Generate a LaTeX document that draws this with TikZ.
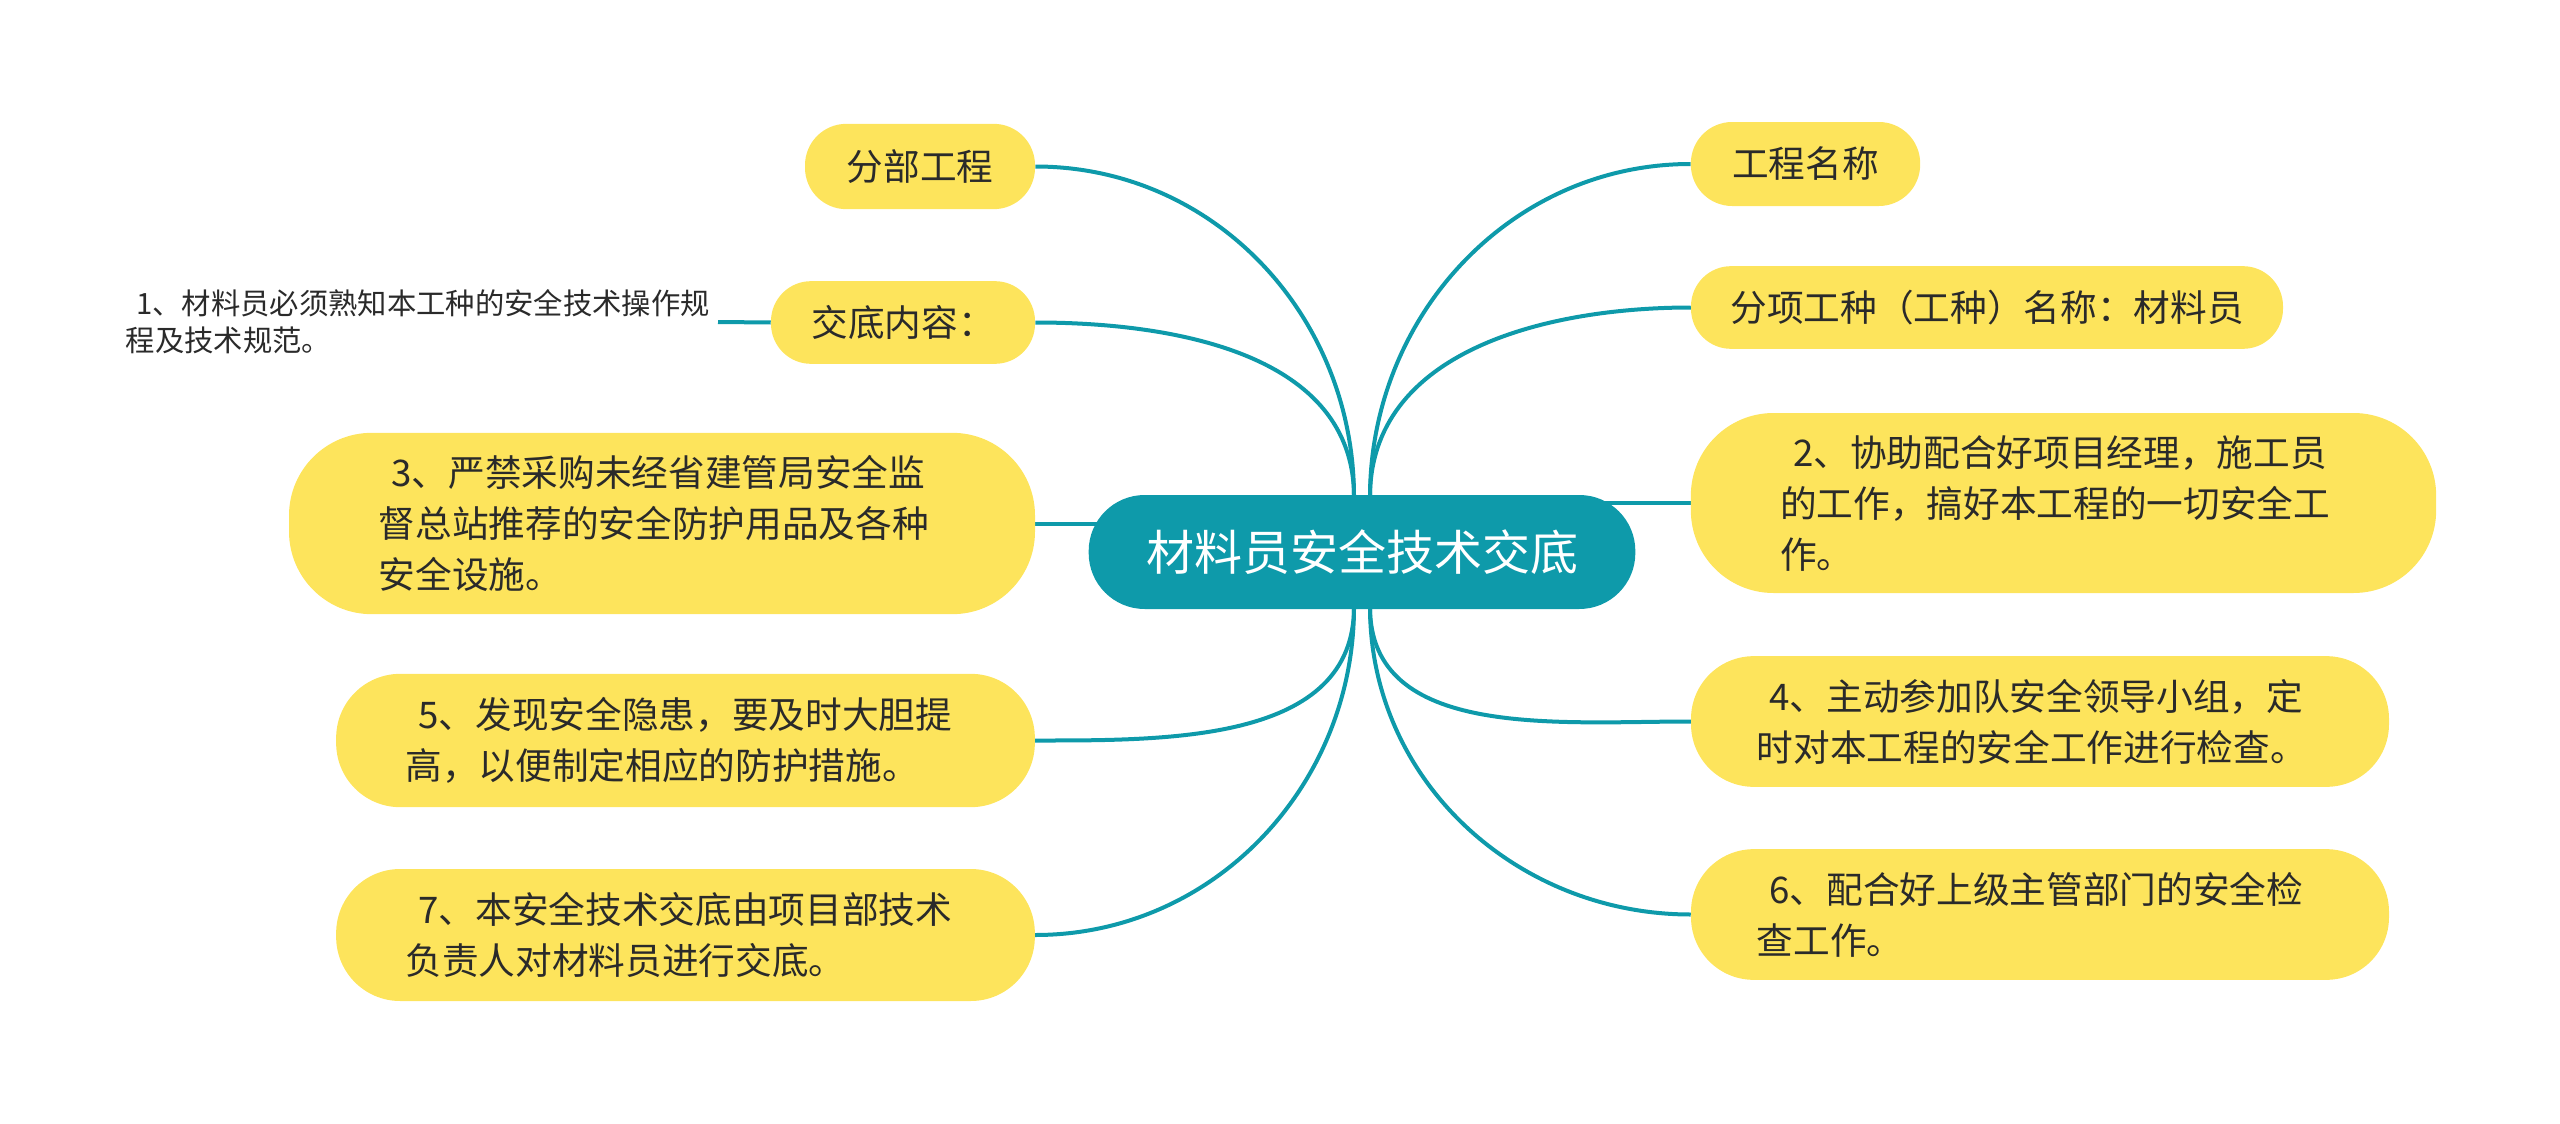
\documentclass[tikz,border=0pt]{standalone}
\usepackage{fontspec}
\setmainfont{Noto Sans CJK SC}
\usetikzlibrary{backgrounds}
\definecolor{tealc}{HTML}{0E9AAA}
\definecolor{yel}{HTML}{FDE45C}
\definecolor{ink}{HTML}{2A2A2A}
\tikzset{
  leaf/.style={fill=yel, text=ink, inner sep=0pt, align=left,
    font=\fontsize{27.5}{38.25}\selectfont},
  centre/.style={fill=tealc, text=white, inner sep=0pt,
    font=\fontsize{36}{40}\selectfont, minimum width=410pt,
    minimum height=85.5pt, rounded corners=42pt},
  link/.style={draw=tealc, line width=3pt},
  plain/.style={text=ink, align=left, inner sep=6pt,
    font=\fontsize{22}{28}\selectfont}
}
\begin{document}
\begin{tikzpicture}[x=0.75pt,y=-0.75pt]
\useasboundingbox (0,0) rectangle (2560,1124);
\node[centre] (c) at (1362,552) {材料员安全技术交底};
% right side
\node[leaf, minimum width=172pt, minimum height=63pt, rounded corners=31pt] (gc) at (1805.5,164) {工程名称};
\node[leaf, minimum width=444pt, minimum height=62pt, rounded corners=30pt] (fx) at (1987,307.5) {分项工种（工种）名称：材料员};
\node[leaf, text width=425pt, minimum width=559pt, minimum height=135pt, rounded corners=62pt] (n2) at (2063.5,503) {\hspace*{.35em}2、协助配合好项目经理，施工员\\的工作，搞好本工程的一切安全工\\作。};
\node[leaf, text width=425pt, minimum width=523.5pt, minimum height=98pt, rounded corners=47pt] (n4) at (2040,721.5) {\hspace*{.35em}4、主动参加队安全领导小组，定\\时对本工程的安全工作进行检查。};
\node[leaf, text width=425pt, minimum width=523.5pt, minimum height=98pt, rounded corners=47pt] (n6) at (2040,914.5) {\hspace*{.35em}6、配合好上级主管部门的安全检\\查工作。};
% left side
\node[leaf, minimum width=172.5pt, minimum height=64pt, rounded corners=31pt] (fb) at (920,166.5) {分部工程};
\node[leaf, minimum width=198pt, minimum height=62pt, rounded corners=30pt] (jd) at (903,322.5) {交底内容：};
\node[plain, anchor=east] (n1) at (718,322) {\hspace*{.35em}1、材料员必须熟知本工种的安全技术操作规\\程及技术规范。};
\node[leaf, text width=425pt, minimum width=559.5pt, minimum height=136pt, rounded corners=62pt] (n3) at (662,523.5) {\hspace*{.35em}3、严禁采购未经省建管局安全监\\督总站推荐的安全防护用品及各种\\安全设施。};
\node[leaf, text width=420pt, minimum width=524pt, minimum height=100pt, rounded corners=48pt] (n5) at (685.5,740.5) {\hspace*{.35em}5、发现安全隐患，要及时大胆提\\高，以便制定相应的防护措施。};
\node[leaf, text width=420pt, minimum width=524pt, minimum height=99pt, rounded corners=48pt] (n7) at (685.5,935) {\hspace*{.35em}7、本安全技术交底由项目部技术\\负责人对材料员进行交底。};
% connectors
\coordinate (ctl) at (1354,497);
\coordinate (ctr) at (1370,497);
\coordinate (cbl) at (1354,607);
\coordinate (cbr) at (1370,607);
\begin{scope}[on background layer]
\draw[link] (ctl) to[out=90,in=0] (fb.east);
\draw[link] (ctl) to[out=90,in=0] (jd.east);
\draw[link] (ctr) to[out=90,in=180] (gc.west);
\draw[link] (ctr) to[out=90,in=180] (fx.west);
\draw[link] (cbl) to[out=-90,in=0] (n5.east);
\draw[link] (cbl) to[out=-90,in=0] (n7.east);
\draw[link] (cbr) to[out=-90,in=180] (n4.west);
\draw[link] (cbr) to[out=-90,in=180] (n6.west);
\draw[link] (n2.west) -- (n2.west -| c.center);
\draw[link] (n3.east) -- (n3.east -| c.center);
\draw[link] (jd.west) -- (n1.east);
\end{scope}
\end{tikzpicture}
\end{document}
